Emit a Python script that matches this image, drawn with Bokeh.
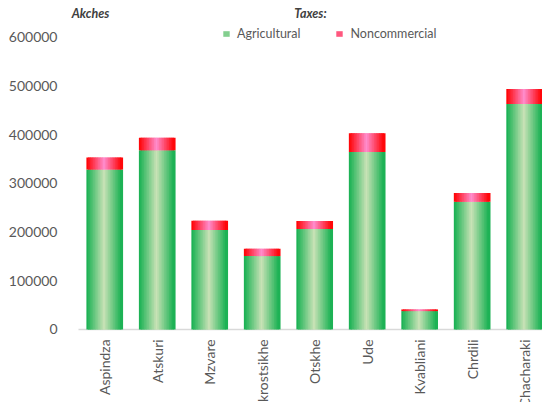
import numpy as np
from bokeh.plotting import figure
from bokeh.models import (ColumnDataSource, Range1d, FixedTicker, Label,
                          Legend, LegendItem, BasicTickFormatter)
from bokeh.core.properties import value
from bokeh.embed import file_html
from bokeh.resources import INLINE

# ---- data ----
categories = ["Aspindza", "Atskuri", "Mzvare", "Okrostsikhe", "Otskhe",
              "Ude", "Kvabliani", "Chrdili", "Chacharaki"]
agricultural = [328000, 367500, 204000, 150500, 206000, 364000, 37600, 262200, 462600]
noncommercial = [25000, 26000, 19000, 15000, 16500, 38500, 3400, 17800, 30800]
y_ticks = [0, 100000, 200000, 300000, 400000, 500000, 600000]

FONT = "Lato"
TXT = "#595959"

def lerp(c1, c2, t):
    a = np.array([int(c1[i:i + 2], 16) for i in (1, 3, 5)], float)
    b = np.array([int(c2[i:i + 2], 16) for i in (1, 3, 5)], float)
    c = a + (b - a) * t
    return "#%02x%02x%02x" % tuple(int(round(v)) for v in c)

BAR_W = 0.67
NSTRIP = 21
offsets = [(-BAR_W / 2 + (k + 0.5) * BAR_W / NSTRIP) for k in range(NSTRIP)]
tvals = [abs(o) / (BAR_W / 2) for o in offsets]

def strips(bottoms, tops, edge, center):
    xs, bs, ts, cs = [], [], [], []
    for i in range(len(categories)):
        for k in range(NSTRIP):
            xs.append(i + offsets[k])
            bs.append(bottoms[i])
            ts.append(tops[i])
            cs.append(lerp(edge, center, 1 - tvals[k]))
    return ColumnDataSource(dict(x=xs, bottom=bs, top=ts, color=cs))

totals = [a + n for a, n in zip(agricultural, noncommercial)]
src_a = strips([0] * len(categories), agricultural, "#14b050", "#c8e2b6")
src_n = strips(agricultural, totals, "#ff0000", "#ff8ccc")

LEFT = 65
PX_PER_CAT = 52.5
x_start = -0.5 - (78 - LEFT) / PX_PER_CAT

p = figure(width=542, height=402, output_backend="svg", toolbar_location=None,
           x_range=Range1d(x_start, 8.34), y_range=Range1d(-150000, 675000),
           x_axis_location=None, min_border_left=LEFT, min_border_right=0,
           min_border_top=0, min_border_bottom=0)
p.outline_line_color = None
p.grid.visible = False

# baseline (category axis line)
p.segment(x0=[-0.5], y0=[0], x1=[len(categories) - 0.5], y1=[0],
          line_color="#d9d9d9", line_width=1.5)

sw = BAR_W / NSTRIP * 1.9
ra = p.vbar(x="x", bottom="bottom", top="top", width=sw, source=src_a,
            fill_color="color", line_color=None)
rn = p.vbar(x="x", bottom="bottom", top="top", width=sw, source=src_n,
            fill_color="color", line_color=None)

# y axis
ya = p.yaxis[0]
ya.ticker = FixedTicker(ticks=y_ticks)
ya.formatter = BasicTickFormatter(use_scientific=False)
ya.axis_line_color = None
ya.major_tick_line_color = None
ya.minor_tick_line_color = None
ya.major_label_text_font = FONT
ya.major_label_text_font_size = "14px"
ya.major_label_text_color = TXT
ya.major_label_standoff = 2

# category labels
lab_src = ColumnDataSource(dict(x=list(range(len(categories))), y=[0] * len(categories),
                                text=categories))
p.text(x="x", y="y", text="text", source=lab_src, angle=np.pi / 2,
       text_align="right", text_baseline="middle", y_offset=10,
       text_font=value(FONT), text_font_size="14px", text_color=TXT)

# titles (screen x measured from frame left)
p.add_layout(Label(x=90 - LEFT, y=402 - 20, x_units="screen", y_units="screen", text="Akches",
                   text_font=FONT, text_font_style="bold italic", text_font_size="12.5px",
                   text_color="#404040", text_align="center"))
p.add_layout(Label(x=310 - LEFT, y=402 - 20, x_units="screen", y_units="screen", text="Taxes:",
                   text_font=FONT, text_font_style="bold italic", text_font_size="12.5px",
                   text_color="#404040", text_align="center"))

mid = NSTRIP // 2 - 4
legend = Legend(items=[LegendItem(label="Agricultural", renderers=[ra], index=mid),
                       LegendItem(label="Noncommercial", renderers=[rn], index=mid)],
                orientation="horizontal", location=(222 - LEFT, 361),
                padding=0, margin=0, spacing=35, label_standoff=7,
                glyph_width=8, glyph_height=7, label_height=12,
                label_text_font=FONT, label_text_font_size="12.5px",
                label_text_color=TXT, border_line_color=None,
                background_fill_alpha=0)
p.add_layout(legend)

open("out.html", "w").write(file_html(p, INLINE))
